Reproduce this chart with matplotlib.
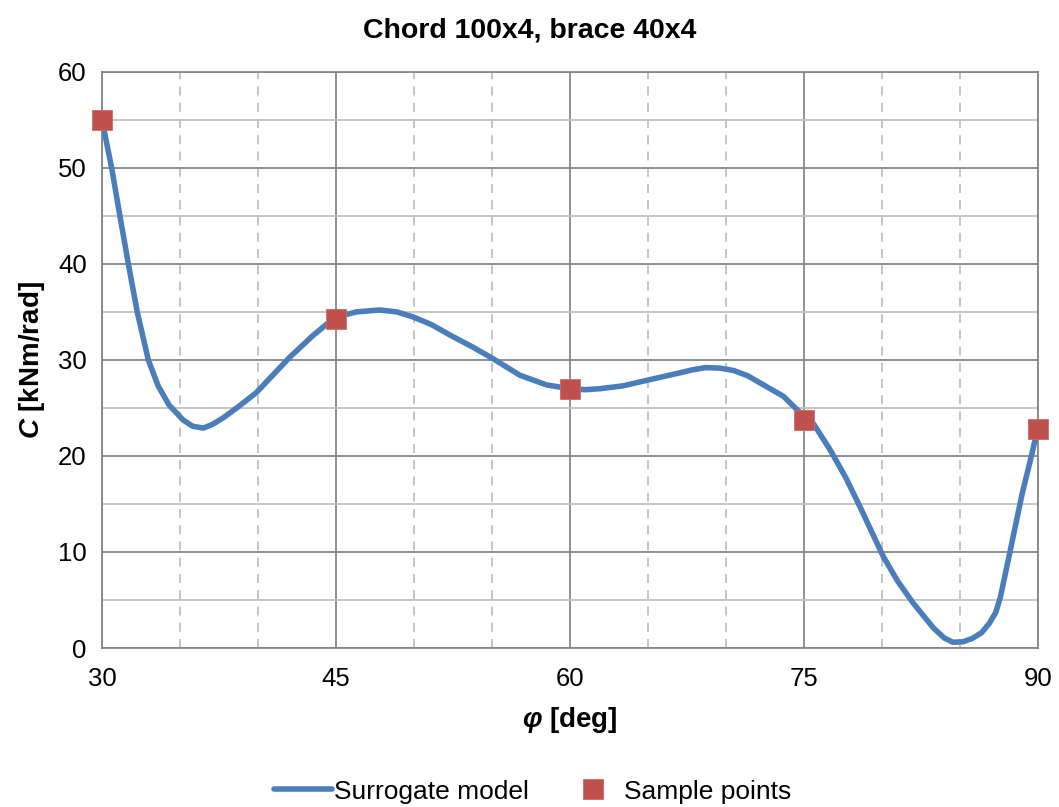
import matplotlib.pyplot as plt
from matplotlib.ticker import MultipleLocator

plt.rcParams['font.family'] = ['Liberation Sans', 'DejaVu Sans']
plt.rcParams['mathtext.fontset'] = 'custom'
plt.rcParams['mathtext.rm'] = 'Liberation Sans'
plt.rcParams['mathtext.it'] = 'Liberation Sans:italic'
plt.rcParams['mathtext.bf'] = 'Liberation Sans:bold'
plt.rcParams['mathtext.bfit'] = 'Liberation Sans:bold:italic'

# surrogate model curve
model_phi = [30.0, 30.62, 31.15, 31.69, 32.26, 32.97, 33.6, 34.3, 35.2, 35.8, 36.5,
             37.1, 37.8, 38.8, 39.9, 41.0, 42.05, 43.5, 44.9, 46.3, 47.8, 48.9, 49.9,
             51.1, 52.3, 53.7, 55.0, 56.8, 58.5, 60.0, 61.0, 61.9, 63.4, 65.0, 66.9,
             67.8, 68.7, 69.6, 70.5, 71.4, 72.2, 73.7, 74.7, 75.6, 76.7, 77.7, 78.6,
             80.1, 81.0, 82.0, 83.3, 84.0, 84.55, 85.2, 85.8, 86.4, 86.9, 87.3, 87.6,
             88.2, 88.6, 89.0, 89.5, 89.9, 90.0]
model_C = [55.0, 50.0, 45.0, 40.0, 35.0, 30.0, 27.3, 25.3, 23.75, 23.1, 22.9,
           23.3, 24.0, 25.2, 26.6, 28.5, 30.3, 32.5, 34.4, 35.0, 35.2, 35.0, 34.5,
           33.7, 32.6, 31.4, 30.2, 28.4, 27.4, 27.0, 26.9, 27.0, 27.3, 27.9, 28.6,
           28.95, 29.2, 29.15, 28.9, 28.35, 27.6, 26.2, 24.6, 23.4, 20.6, 17.7, 14.7,
           9.5, 7.0, 4.7, 2.1, 1.05, 0.6, 0.65, 1.0, 1.6, 2.6, 3.7, 5.3,
           9.9, 13.0, 16.1, 19.4, 22.2, 22.8]

# sample points
sample_phi = [30, 45, 60, 75, 90]
sample_C = [55.0, 34.3, 27.0, 23.7, 22.8]

fig = plt.figure(figsize=(10.59, 8.07), dpi=100)
ax = fig.add_axes([0.0963, 0.197, 0.8837, 0.714])

ax.plot(model_phi, model_C, color='#4a7ebb', lw=4.0, solid_capstyle='round',
        solid_joinstyle='round', label='Surrogate model', zorder=3)
ax.plot(sample_phi, sample_C, ls='none', marker='s', ms=14.5, color='#c0504d',
        mec='#d06b68', mew=0.6, label='Sample points', zorder=4, clip_on=False)

ax.set_xlim(30, 90)
ax.set_ylim(0, 60)
ax.xaxis.set_major_locator(MultipleLocator(15))
ax.xaxis.set_minor_locator(MultipleLocator(5))
ax.yaxis.set_major_locator(MultipleLocator(10))
ax.yaxis.set_minor_locator(MultipleLocator(5))

ax.grid(which='major', color='#868686', lw=1.3)
ax.grid(which='minor', axis='y', color='#c0c0c0', lw=1.3)
ax.grid(which='minor', axis='x', color='#c0c0c0', lw=1.3, ls=(0, (5, 4)))
ax.set_axisbelow(True)
for s in ax.spines.values():
    s.set_color('#868686')
    s.set_linewidth(1.3)

ax.tick_params(which='both', length=0, labelsize=18.5)
ax.tick_params(axis='x', pad=14)
ax.tick_params(axis='y', pad=11)

# title is centred on the whole figure, not on the axes
fig.text(0.5, 0.962, 'Chord 100x4, brace 40x4', fontsize=20.5, fontweight='bold',
         ha='center', va='center')
ax.set_xlabel(r'$\mathbfit{φ}$ [deg]', fontsize=20, fontweight='bold', labelpad=10)
ax.set_ylabel(r'$\mathbfit{C}$ [kNm/rad]', fontsize=20, fontweight='bold', labelpad=8)

fig.legend(loc='center', bbox_to_anchor=(0.503, 0.019), ncol=2, frameon=False,
           fontsize=19, handlelength=2.2, columnspacing=1.3, handletextpad=0.1)

fig.savefig('out.png', dpi=100)
